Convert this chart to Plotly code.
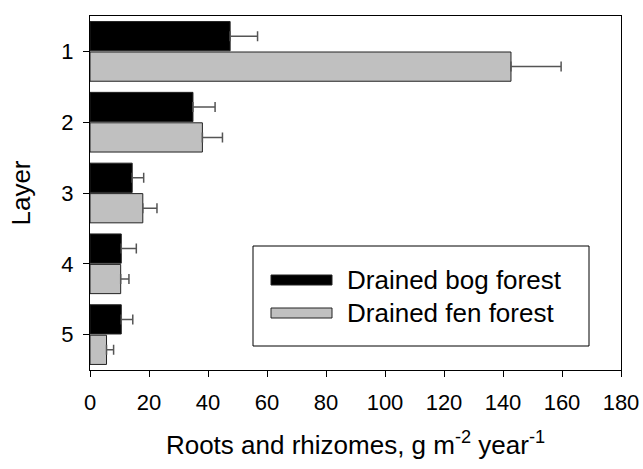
import plotly.graph_objects as go

layers = [1, 2, 3, 4, 5]
layer_labels = ["1", "2", "3", "4", "5"]
bog_values = [47.5, 34.9, 14.3, 10.6, 10.6]
bog_errors = [9.3, 7.5, 3.9, 5.1, 3.9]
fen_values = [142.7, 38.1, 17.9, 10.4, 5.6]
fen_errors = [17.0, 6.8, 4.8, 2.8, 2.4]
x_ticks = [0, 20, 40, 60, 80, 100, 120, 140, 160, 180]
series_names = ["Drained bog forest", "Drained fen forest"]

FONT = "Liberation Sans, Arial, sans-serif"

fig = go.Figure()
fig.add_trace(go.Bar(
    y=layers, x=bog_values, orientation="h", name=series_names[0],
    marker=dict(color="#000000", line=dict(color="#222222", width=1)),
    error_x=dict(type="data", array=bog_errors, arrayminus=[0] * len(bog_errors),
                 visible=True, color="#555555", thickness=1.5, width=5),
))
fig.add_trace(go.Bar(
    y=layers, x=fen_values, orientation="h", name=series_names[1],
    marker=dict(color="#c0c0c0", line=dict(color="#222222", width=1)),
    error_x=dict(type="data", array=fen_errors, arrayminus=[0] * len(fen_errors),
                 visible=True, color="#555555", thickness=1.5, width=5),
))

fig.update_layout(
    width=643, height=469,
    margin=dict(l=90, r=22, t=16, b=99),
    barmode="group", bargap=0.14, bargroupgap=0.04,
    plot_bgcolor="white", paper_bgcolor="white",
    showlegend=False,
    font=dict(family=FONT, size=22, color="black"),
)
fig.update_xaxes(
    range=[0, 180], tickvals=x_ticks, ticktext=[str(v) for v in x_ticks],
    showgrid=False, zeroline=False, showline=True, linecolor="black", linewidth=1.2,
    mirror=True, ticks="outside", ticklen=6, tickcolor="black",
    tickfont=dict(size=22), automargin=False, ticklabelstandoff=6,
    title=dict(text="Roots and rhizomes, g m<sup>-2</sup> year<sup>-1</sup>", font=dict(size=26), standoff=22),
)
fig.update_yaxes(
    range=[5.5, 0.5], tickvals=layers, ticktext=layer_labels,
    showgrid=False, zeroline=False, showline=True, linecolor="black", linewidth=1.2,
    mirror=True, ticks="outside", ticklen=6, tickcolor="black",
    tickfont=dict(size=22), automargin=False, ticklabelstandoff=5,
    title=dict(text="Layer", font=dict(size=26), standoff=23),
)

# Manual legend (long rectangle swatches), placed in plot-area paper coordinates
def fx(x):
    return (x - 90) / 531

def fy(y):
    return (370 - y) / 354

fig.add_shape(type="rect", xref="paper", yref="paper",
              x0=fx(253), x1=fx(589), y0=fy(346), y1=fy(246),
              line=dict(color="black", width=1), fillcolor="white", layer="above")
swatch_colors = ["#000000", "#c0c0c0"]
row_y = [280, 313]
for name, col, yy in zip(series_names, swatch_colors, row_y):
    fig.add_shape(type="rect", xref="paper", yref="paper",
                  x0=fx(271), x1=fx(332), y0=fy(yy + 5), y1=fy(yy - 5),
                  line=dict(color="#222222", width=1), fillcolor=col, layer="above")
    fig.add_annotation(xref="paper", yref="paper",
                       x=fx(345), y=fy(yy),
                       text=name, showarrow=False, xanchor="left", yanchor="middle",
                       font=dict(size=26, family=FONT, color="black"))

fig.write_html("out.html", config={"displayModeBar": False},
               post_script="document.body.style.margin='0';document.body.style.padding='0';")
